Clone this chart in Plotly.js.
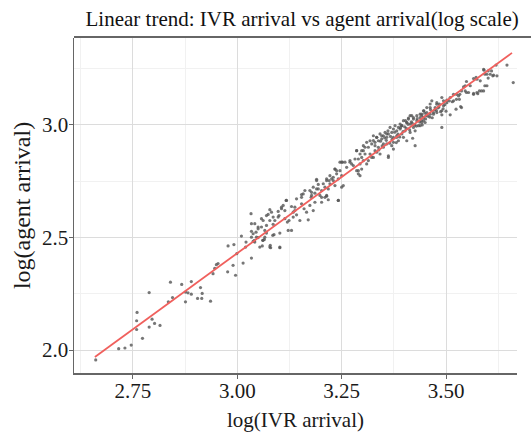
<!DOCTYPE html>
<html>
<head>
<meta charset="utf-8">
<script src="https://cdn.plot.ly/plotly-3.0.1.min.js"></script>
<style>
html,body{margin:0;padding:0;background:#fff;}
#chart{width:531px;height:433px;}
</style>
</head>
<body>
<div id="chart"></div>
<script>
// log(IVR arrival) values of the observations
const ivrLog = [
  2.661,2.716,2.731,2.746,2.773,2.759,2.759,2.760,2.789,2.789,
  2.796,2.802,2.815,2.840,2.845,2.835,2.867,2.876,2.882,2.890,
  2.876,2.890,2.905,2.915,2.912,2.916,2.936,2.942,2.946,2.950,
  2.954,2.977,2.996,2.990,2.978,2.992,2.999,3.014,3.034,3.010,
  3.021,3.020,3.034,3.041,3.061,3.065,3.060,3.079,3.080,3.088,
  3.070,3.050,3.033,3.034,3.034,3.038,3.045,3.050,3.058,3.062,
  3.066,3.070,3.074,3.078,3.085,3.086,3.090,3.102,3.102,3.100,
  3.098,3.106,3.110,3.114,3.117,3.120,3.122,3.124,3.130,3.130,
  3.134,3.138,3.142,3.150,3.154,3.154,3.160,3.166,3.170,3.174,
  3.177,3.182,3.186,3.186,3.190,3.194,3.198,3.202,3.202,3.210,
  3.214,3.218,3.214,3.220,3.190,3.178,
  3.646,3.661,3.620,3.622,3.612,3.598,3.601,3.590,3.582,3.574,
  3.598,3.590,3.574,3.566,3.576,3.549,3.558,3.542,3.546,3.530,
  3.525,3.537,3.518,3.510,3.508,3.502,3.490,3.494,3.490,3.490,
  3.478,3.474,3.466,3.462,3.470,3.454,3.446,3.442,3.450,3.438,
  3.430,3.422,3.418,3.414,3.410,3.406,3.398,3.394,3.390,3.422,
  3.426,3.382,3.374,3.374,3.362,3.350,3.358,3.346,3.334,3.330,
  3.326,3.334,3.322,3.314,3.306,3.302,3.298,3.294,3.290,3.286,
  3.294,3.278,3.270,3.252,3.246,3.250,3.254,3.238,3.242,3.230,
  3.226,3.234,3.222,3.218,3.210,3.194,3.190,3.182,3.174,3.178,
  3.162,3.158,3.154,3.142,3.138,3.134,3.118,3.114,3.106,3.098,
  3.086,3.082,3.078,3.070,3.062,3.058,3.050,3.042,3.038,3.046,
  3.066,3.078,3.102,3.054,3.042,3.242,
  3.614,3.606,3.609,3.593,3.591,3.601,3.593,3.585,3.580,3.566,
  3.572,3.566,3.549,3.554,3.546,3.537,3.533,3.532,3.525,3.518,
  3.515,3.502,3.494,3.484,3.478,3.462,3.454,3.447,3.442,3.452,
  3.462,3.470,3.478,3.490,3.510,3.500,3.524,3.535,3.446,3.438,
  3.438,3.430,3.422,3.414,3.410,3.406,3.403,3.394,3.390,3.386,
  3.382,3.378,3.374,3.370,3.366,3.362,3.358,3.354,3.350,3.346,
  3.342,3.338,3.334,3.330,3.326,3.322,3.318,3.314,3.310,3.302,
  3.298,3.294,3.286,3.290,3.282,3.274,3.270,3.262,3.258,3.250,
  3.246,3.238,3.234,3.230,3.222,3.214,3.206,3.202,3.214,3.242,
  3.234,3.250,3.286,3.290,3.298,3.310,3.326,3.342,3.362,3.350,
  3.370,3.386,3.398,3.406,3.420,3.414,3.426,3.434,3.442,3.446,
  3.402,3.394,3.382,3.374,3.358,3.338,3.330,3.318,3.306,3.302,
  3.343,3.353,3.361,3.367,3.377,3.385,3.391,3.401,3.409,3.417,
  3.425,3.431,3.441,3.449,3.457,3.463,3.473,3.481,3.487,3.497,
  3.339,3.347,3.357,3.365,3.371,3.381,3.389,3.397,3.405,3.413,
  3.419,3.429,3.437,3.443,3.451,3.461,3.467,3.477,3.483,3.493
];
// log(agent arrival) values of the observations (same order)
const agentLog = [
  1.956,2.006,2.009,2.022,2.052,2.091,2.130,2.167,2.255,2.102,
  2.137,2.118,2.109,2.301,2.233,2.214,2.291,2.257,2.254,2.248,
  2.214,2.304,2.229,2.229,2.277,2.251,2.217,2.339,2.362,2.379,
  2.384,2.347,2.332,2.376,2.462,2.468,2.428,2.386,2.408,2.506,
  2.479,2.457,2.501,2.487,2.487,2.491,2.462,2.465,2.454,2.512,
  2.519,2.499,2.605,2.561,2.527,2.482,2.523,2.538,2.583,2.487,
  2.501,2.553,2.602,2.623,2.509,2.558,2.575,2.454,2.519,2.597,
  2.615,2.634,2.642,2.583,2.664,2.568,2.531,2.575,2.637,2.531,
  2.590,2.619,2.600,2.575,2.649,2.690,2.627,2.612,2.578,2.642,
  2.678,2.619,2.656,2.696,2.715,2.735,2.686,2.656,2.708,2.723,
  2.686,2.667,2.760,2.752,2.758,2.700,
  3.265,3.187,3.265,3.217,3.217,3.224,3.239,3.246,3.195,3.202,
  3.173,3.150,3.143,3.135,3.138,3.143,3.173,3.168,3.150,3.128,
  3.113,3.076,3.106,3.121,3.106,3.098,3.121,3.084,3.062,2.988,
  3.091,3.076,3.106,3.092,3.047,3.054,3.062,3.047,3.010,3.032,
  3.018,3.025,3.040,3.003,3.030,3.010,3.018,2.996,2.981,2.988,
  2.907,2.944,2.922,2.892,2.855,2.915,2.959,2.951,2.944,2.907,
  2.930,2.878,2.855,2.841,2.900,2.885,2.855,2.826,2.796,2.885,
  2.774,2.819,2.841,2.834,2.834,2.774,2.730,2.796,2.760,2.752,
  2.760,2.803,2.738,2.715,2.678,2.715,2.752,2.723,2.708,2.686,
  2.708,2.693,2.678,2.671,2.634,2.612,2.664,2.619,2.627,2.590,
  2.590,2.612,2.575,2.597,2.575,2.546,2.546,2.561,2.516,2.501,
  2.531,2.457,2.457,2.457,2.479,2.664,
  3.220,3.224,3.239,3.224,3.242,3.207,3.173,3.150,3.150,3.139,
  3.210,3.205,3.192,3.143,3.173,3.150,3.135,3.113,3.135,3.135,
  3.102,3.109,3.106,3.092,3.098,3.076,3.076,3.062,3.040,3.040,
  3.047,3.054,3.054,3.044,3.044,3.060,3.069,3.081,3.018,2.996,
  3.047,3.040,3.032,3.040,3.025,3.010,3.018,2.996,3.003,2.988,
  2.973,2.996,2.981,2.966,2.988,2.959,2.944,2.966,2.951,2.937,
  2.959,2.929,2.944,2.922,2.951,2.915,2.929,2.900,2.922,2.907,
  2.885,2.870,2.885,2.848,2.848,2.826,2.834,2.811,2.834,2.834,
  2.796,2.782,2.803,2.767,2.774,2.752,2.738,2.678,2.683,2.664,
  2.730,2.723,2.796,2.782,2.803,2.826,2.855,2.870,2.862,2.900,
  2.907,2.929,2.944,2.929,2.940,2.966,2.973,2.996,3.010,3.032,
  2.973,2.959,2.951,2.944,2.915,2.900,2.885,2.870,2.870,2.841,
  2.927,2.942,2.973,2.948,2.967,2.958,2.987,2.991,3.002,3.013,
  2.998,3.027,3.019,3.052,3.038,3.067,3.066,3.075,3.058,3.089,
  2.888,2.906,2.931,2.918,2.936,2.921,2.946,2.969,2.984,2.977,
  3.007,2.994,3.012,2.999,3.026,3.034,3.031,3.063,3.079,3.071
];
// fitted linear trend endpoints
const trendX = [2.659, 3.658];
const trendY = [1.969, 3.319];

const serif = 'Liberation Serif, Times New Roman, serif';
const tickFont = {family: serif, size: 21, color: '#1a1a1a'};

const data = [
  {
    type: 'scatter', mode: 'markers', x: ivrLog, y: agentLog,
    marker: {size: 3.2, color: 'rgba(85,85,85,0.8)'},
    hoverinfo: 'x+y', showlegend: false
  },
  {
    type: 'scatter', mode: 'lines', x: trendX, y: trendY,
    line: {color: '#f0605d', width: 1.8}, showlegend: false
  }
];

const layout = {
  width: 531, height: 433,
  margin: {l: 74, r: 14, t: 38, b: 60},
  paper_bgcolor: '#ffffff', plot_bgcolor: '#ffffff',
  font: tickFont,
  title: {
    text: 'Linear trend: IVR arrival vs agent arrival(log scale)',
    font: {family: serif, size: 21, color: '#111'},
    x: 0.569, xanchor: 'center', xref: 'container',
    y: 0.958, yanchor: 'middle', yref: 'container'
  },
  xaxis: {
    range: [2.609, 3.670],
    tickmode: 'array', tickvals: [2.75, 3.0, 3.25, 3.5], ticktext: ['2.75', '3.00', '3.25', '3.50'],
    showgrid: true, gridcolor: '#dcdcdc', gridwidth: 1,
    minor: {tickmode: 'array', tickvals: [2.625, 2.875, 3.125, 3.375, 3.625], showgrid: true, gridcolor: '#f1f1f1', gridwidth: 1},
    zeroline: false,
    showline: true, linecolor: '#666', linewidth: 1.5,
    ticks: 'outside', ticklen: 4, tickcolor: '#666', tickwidth: 1,
    ticklabelstandoff: -6,
    tickfont: tickFont,
    title: {text: 'log(IVR arrival)', font: {family: serif, size: 21, color: '#1a1a1a'}, standoff: 10}
  },
  yaxis: {
    range: [1.898, 3.385],
    tickmode: 'array', tickvals: [2.0, 2.5, 3.0], ticktext: ['2.0', '2.5', '3.0'],
    showgrid: true, gridcolor: '#dcdcdc', gridwidth: 1,
    minor: {tickmode: 'array', tickvals: [2.25, 2.75, 3.25], showgrid: true, gridcolor: '#f1f1f1', gridwidth: 1},
    zeroline: false,
    showline: true, linecolor: '#666', linewidth: 1.5,
    ticks: 'outside', ticklen: 4, tickcolor: '#666', tickwidth: 1,
    ticklabelstandoff: -4,
    tickfont: {family: serif, size: 21, color: '#1a1a1a'},
    title: {text: 'log(agent arrival)', font: {family: serif, size: 24, color: '#1a1a1a'}, standoff: 4}
  },
  shapes: [
    {type: 'line', xref: 'paper', yref: 'paper', x0: 0, x1: 1.032, y0: 1.003, y1: 1.003,
     line: {color: '#333', width: 1.5}}
  ]
};

Plotly.newPlot('chart', data, layout, {displayModeBar: false, staticPlot: true});
</script>
</body>
</html>
